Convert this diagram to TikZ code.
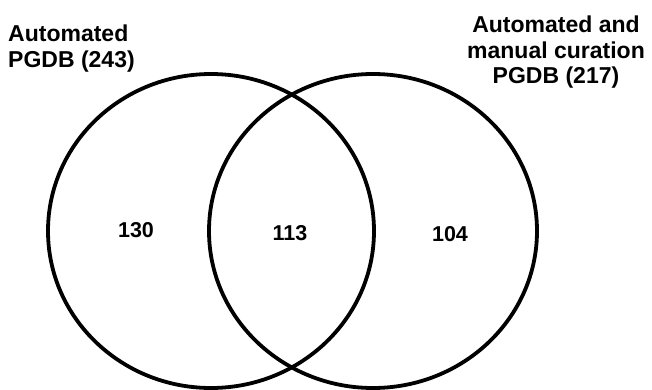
\documentclass[tikz,border=0pt]{standalone}
\usepackage{fontspec}
\setmainfont{Liberation Sans}
\usepackage{tikz}
\usetikzlibrary{positioning}
\usetikzlibrary{shapes,shapes.geometric,calc}
\tikzset{
  x=1pt, y=-1pt,
  set/.style = {ellipse, draw, line width=3.8pt, inner sep=0pt,
   minimum width=326pt, minimum height=314pt, node contents={}},
  title/.style = {inner sep=0pt, font=\bfseries\fontsize{23}{25.5}\selectfont},
  count/.style = {inner sep=0pt, font=\bfseries\fontsize{21.5}{24}\selectfont},
}

\begin{document}
\begin{tikzpicture}
  \useasboundingbox (0,0) rectangle (652,390);
  \node (A)  at (211,231) [set];
  \node (M)  at (373,231) [set, minimum width=328pt];
  \node (tA) at (8,25) [title, anchor=north west, align=left]
    {Automated\\PGDB (243)};
  \node (tM) at (556,16) [title, anchor=north, align=center]
    {Automated and\\manual curation\\PGDB (217)};
  \node (nA)  at (136,230.5) [count] {130};
  \node (nAM) at (290,233.5) [count] {113};
  \node (nM)  at (450,234.5) [count] {104};
\end{tikzpicture}
\end{document}
